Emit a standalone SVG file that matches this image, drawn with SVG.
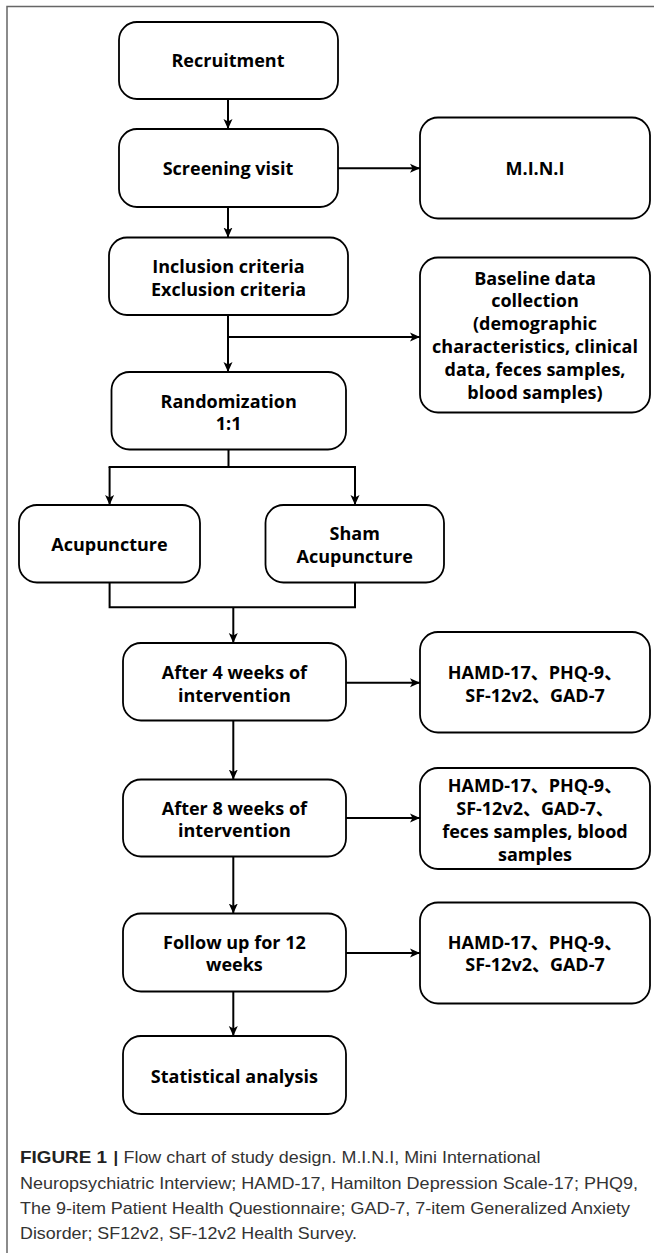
<svg xmlns="http://www.w3.org/2000/svg" width="654" height="1253" viewBox="0 0 654 1253">
<style>
.box{fill:#fff;stroke:#000;stroke-width:1.8}
.lbl{font-family:"Open Sans","Noto Sans CJK SC",sans-serif;font-weight:bold;font-size:18px;fill:#000;text-anchor:middle}
.ln{fill:none;stroke:#000;stroke-width:2}
.cap{font-family:"Liberation Sans",Arial,sans-serif;font-size:16.5px;fill:#333}
.capb{font-family:"Liberation Sans",Arial,sans-serif;font-size:16.5px;fill:#222;font-weight:bold}
</style>
<defs>
<marker id="ah" markerUnits="userSpaceOnUse" markerWidth="12" markerHeight="10" refX="10" refY="5" orient="auto">
<path d="M0,0.5 L10,5 L0,9.5 L2.5,5 z" fill="#000"/>
</marker>
</defs>
<rect width="654" height="1253" fill="#fff"/>
<path d="M7,1253 V6.5 H654" fill="none" stroke="#666" stroke-width="1.5"/>

<g id="recruitment"><rect class="box" x="119" y="22" width="219" height="77" rx="18"/><text class="lbl" x="228" y="67">Recruitment</text></g>
<g id="screening"><rect class="box" x="119" y="129" width="219" height="78" rx="18"/><text class="lbl" x="228" y="174.5">Screening visit</text></g>
<g id="mini"><rect class="box" x="420" y="117.5" width="230" height="101" rx="18"/><text class="lbl" x="535" y="174.5">M.I.N.I</text></g>
<g id="criteria"><rect class="box" x="109" y="237.5" width="239" height="77.5" rx="18"/><text class="lbl" x="228.5" y="272.7">Inclusion criteria</text><text class="lbl" x="228.5" y="295.5">Exclusion criteria</text></g>
<g id="baseline"><rect class="box" x="420" y="257.5" width="230" height="155" rx="18"/>
<text class="lbl" x="535" y="284.5">Baseline data</text>
<text class="lbl" x="535" y="307.3">collection</text>
<text class="lbl" x="535" y="330.1">(demographic</text>
<text class="lbl" x="535" y="352.9">characteristics, clinical</text>
<text class="lbl" x="535" y="375.7">data, feces samples,</text>
<text class="lbl" x="535" y="398.5">blood samples)</text></g>
<g id="randomization"><rect class="box" x="111.5" y="372" width="234.5" height="77.5" rx="18"/><text class="lbl" x="228.7" y="407.5">Randomization</text><text class="lbl" x="228.7" y="430.3">1:1</text></g>
<g id="acupuncture"><rect class="box" x="19" y="505" width="181" height="77.5" rx="18"/><text class="lbl" x="109.5" y="551">Acupuncture</text></g>
<g id="sham"><rect class="box" x="265.5" y="505" width="178.5" height="77.5" rx="18"/><text class="lbl" x="354.7" y="540">Sham</text><text class="lbl" x="354.7" y="562.8">Acupuncture</text></g>
<g id="week4"><rect class="box" x="123" y="643" width="223" height="77.5" rx="18"/><text class="lbl" x="234.4" y="679">After 4 weeks of</text><text class="lbl" x="234.4" y="701.8">intervention</text></g>
<g id="out4"><rect class="box" x="420" y="632" width="230" height="100.5" rx="18"/><text class="lbl" x="535" y="679">HAMD-17、PHQ-9、</text><text class="lbl" x="535" y="701.8">SF-12v2、GAD-7</text></g>
<g id="week8"><rect class="box" x="123" y="779.5" width="223" height="77" rx="18"/><text class="lbl" x="234.4" y="814.5">After 8 weeks of</text><text class="lbl" x="234.4" y="837.3">intervention</text></g>
<g id="out8"><rect class="box" x="420" y="768" width="230" height="101" rx="18"/>
<text class="lbl" x="535" y="792.3">HAMD-17、PHQ-9、</text>
<text class="lbl" x="535" y="815.1">SF-12v2、GAD-7、</text>
<text class="lbl" x="535" y="837.9">feces samples, blood</text>
<text class="lbl" x="535" y="860.7">samples</text></g>
<g id="followup"><rect class="box" x="123" y="913.5" width="223" height="78" rx="18"/><text class="lbl" x="234.4" y="948.5">Follow up for 12</text><text class="lbl" x="234.4" y="971.3">weeks</text></g>
<g id="out12"><rect class="box" x="420" y="902.5" width="230" height="101" rx="18"/><text class="lbl" x="535" y="948.5">HAMD-17、PHQ-9、</text><text class="lbl" x="535" y="971.3">SF-12v2、GAD-7</text></g>
<g id="stats"><rect class="box" x="123" y="1036" width="223" height="78" rx="18"/><text class="lbl" x="234.4" y="1082.5">Statistical analysis</text></g>

<g id="connectors">
<path class="ln" d="M228,99 V129" marker-end="url(#ah)"/>
<path class="ln" d="M338,168.3 H420" marker-end="url(#ah)"/>
<path class="ln" d="M228,207 V237.5" marker-end="url(#ah)"/>
<path class="ln" d="M228,315 V372" marker-end="url(#ah)"/>
<path class="ln" d="M228,337 H420" marker-end="url(#ah)"/>
<path class="ln" d="M228.5,449.5 V467"/>
<path class="ln" d="M108.6,467 H356"/>
<path class="ln" d="M109.6,467 V505" marker-end="url(#ah)"/>
<path class="ln" d="M355,467 V505" marker-end="url(#ah)"/>
<path class="ln" d="M109.6,582.5 V607.3 H355 V582.5"/>
<path class="ln" d="M233.3,607.3 V643" marker-end="url(#ah)"/>
<path class="ln" d="M346,682.7 H420" marker-end="url(#ah)"/>
<path class="ln" d="M233.3,720.5 V779.5" marker-end="url(#ah)"/>
<path class="ln" d="M346,818 H420" marker-end="url(#ah)"/>
<path class="ln" d="M233.3,856.5 V913.5" marker-end="url(#ah)"/>
<path class="ln" d="M346,953 H420" marker-end="url(#ah)"/>
<path class="ln" d="M233.3,991.5 V1036" marker-end="url(#ah)"/>
</g>

<g id="caption">
<text class="capb" x="20" y="1163" textLength="87" lengthAdjust="spacingAndGlyphs">FIGURE 1</text>
<text class="capb" x="113.5" y="1163">|</text>
<text class="cap" x="123.5" y="1163" textLength="417" lengthAdjust="spacingAndGlyphs">Flow chart of study design. M.I.N.I, Mini International</text>
<text class="cap" x="20" y="1188.5" textLength="618" lengthAdjust="spacingAndGlyphs">Neuropsychiatric Interview; HAMD-17, Hamilton Depression Scale-17; PHQ9,</text>
<text class="cap" x="20" y="1214" textLength="610" lengthAdjust="spacingAndGlyphs">The 9-item Patient Health Questionnaire; GAD-7, 7-item Generalized Anxiety</text>
<text class="cap" x="20" y="1238.5" textLength="337" lengthAdjust="spacingAndGlyphs">Disorder; SF12v2, SF-12v2 Health Survey.</text>
</g>
</svg>
